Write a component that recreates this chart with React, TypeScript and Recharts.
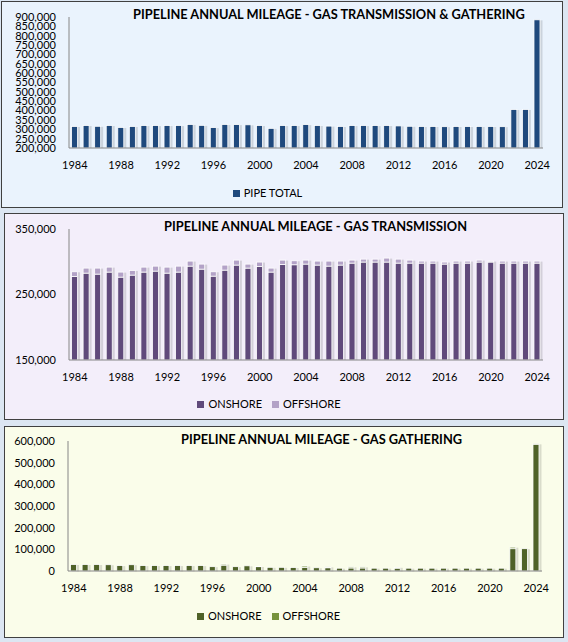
import React from 'react';
import { BarChart, Bar, XAxis, YAxis, Legend } from 'recharts';

const YEARS = [
  1984, 1985, 1986, 1987, 1988, 1989, 1990, 1991, 1992, 1993, 1994, 1995, 1996, 1997,
  1998, 1999, 2000, 2001, 2002, 2003, 2004, 2005, 2006, 2007, 2008, 2009, 2010, 2011,
  2012, 2013, 2014, 2015, 2016, 2017, 2018, 2019, 2020, 2021, 2022, 2023, 2024,
];

// transmission + gathering total (miles)
const PIPE_TOTAL = [
  315000, 320000, 316000, 320000, 310000, 315000, 320000, 320000, 320000, 320000, 326000,
  321000, 309000, 326000, 325000, 324000, 320000, 305000, 320000, 320000, 325000, 320000,
  317000, 315000, 320000, 320000, 320000, 320000, 318000, 316000, 315000, 315000, 314000,
  315000, 315000, 315000, 315000, 314000, 406000, 406000, 885000,
];

// gas transmission
const TRANS_ONSHORE = [
  277500, 282600, 281100, 284200, 276500, 279600, 284200, 285700, 282600, 284200, 293300,
  288700, 278000, 287200, 294900, 290300, 292800, 284200, 295900, 295400, 296400, 294900,
  293300, 294900, 297900, 299500, 299500, 299500, 297900, 297900, 297900, 297900, 296400,
  297900, 297900, 299500, 299500, 297900, 297900, 297900, 297900,
];
const TRANS_OFFSHORE = [
  7200, 7700, 9200, 7600, 7700, 7100, 7600, 7600, 9200, 9100, 7700, 7700, 6700, 7700,
  7600, 6100, 6700, 6100, 6600, 6100, 6100, 6100, 7700, 6100, 4600, 4500, 4500, 6100,
  6100, 4600, 3100, 3100, 3100, 3100, 3100, 3000, 1500, 3100, 3100, 3100, 3100,
];

// gas gathering
const GATH_ONSHORE = [
  30000, 30000, 30000, 29000, 25000, 29000, 25000, 25000, 25000, 25000, 25000, 25000,
  20000, 27000, 20000, 24000, 20000, 17000, 17000, 16000, 17000, 15000, 15000, 13000,
  14000, 14000, 13000, 13000, 13000, 13000, 13000, 13000, 13000, 13000, 13000, 13000,
  13000, 13000, 103000, 103000, 585000,
];
const GATH_OFFSHORE = [
  0, 0, 0, 0, 0, 0, 0, 0, 0, 0, 0, 0, 0, 5000, 0, 0, 1000, 0, 0, 0, 6000, 0, 4000, 0,
  5000, 5000, 0, 0, 4000, 0, 0, 0, 0, 0, 0, 0, 0, 0, 7000, 0, 2000,
];

const TICKS_TOTAL = [
  200000, 250000, 300000, 350000, 400000, 450000, 500000, 550000, 600000, 650000, 700000,
  750000, 800000, 850000, 900000,
];
const TICKS_TRANS = [150000, 250000, 350000];
const TICKS_GATH = [0, 100000, 200000, 300000, 400000, 500000, 600000];
const LEGEND_ORDER = ['PIPE TOTAL', 'ONSHORE', 'OFFSHORE'];

const totalData = YEARS.map((y, i) => ({ year: y, total: PIPE_TOTAL[i] }));
const transData = YEARS.map((y, i) => ({ year: y, on: TRANS_ONSHORE[i], off: TRANS_OFFSHORE[i] }));
const gathData = YEARS.map((y, i) => ({ year: y, on: GATH_ONSHORE[i], off: GATH_OFFSHORE[i] }));

const FONT = 'Lato, "Open Sans", sans-serif';
const fmt = (v: number) => v.toLocaleString('en-US');
const tickStyle = { fontSize: 11, fill: '#000', fontFamily: FONT };
const sortLegend = (item: any) => LEGEND_ORDER.indexOf(item.value);

// bar with a soft grey drop shadow, like the Excel original
const ShadowBar = (props: any) => {
  const { x, y, width, height, fill } = props;
  if (!height || height <= 0) return null;
  return (
    <g>
      <rect x={x + 1.5} y={y + 0.5} width={width + 1} height={height} fill="#000" fillOpacity={0.13} />
      <rect x={x} y={y} width={width} height={height} fill={fill} stroke="#fff" strokeWidth={0.8} />
    </g>
  );
};

const legendText = (value: string) => (
  <span style={{ color: '#000', fontSize: 11, fontFamily: FONT }}>{value}</span>
);

const Panel = ({ left, top, width, height, bg, title, titleLeft, titleTop, children }: any) => (
  <div
    style={{
      position: 'absolute',
      left,
      top,
      width,
      height,
      background: bg,
      border: '1px solid #404040',
      boxSizing: 'border-box',
    }}
  >
    <div
      style={{
        position: 'absolute',
        left: titleLeft,
        top: titleTop,
        fontFamily: FONT,
        fontWeight: 700,
        fontSize: 12.8,
        color: '#000',
        whiteSpace: 'nowrap',
      }}
    >
      {title}
    </div>
    <div style={{ position: 'absolute', left: 0, top: 0 }}>{children}</div>
  </div>
);

export default function App() {
  return (
    <div style={{ position: 'absolute', left: 0, top: 0, width: 568, height: 642, background: '#dce6f2' }}>
      <Panel left={1} top={1} width={562} height={207} bg="#eaf3fd"
        title="PIPELINE ANNUAL MILEAGE - GAS TRANSMISSION & GATHERING" titleLeft={131} titleTop={4}>
        <BarChart width={560} height={205} data={totalData} barCategoryGap="22%"
          margin={{ top: 15, right: 19, left: 0, bottom: 0 }}>
          <XAxis dataKey="year" interval={3} tickLine={false} tickSize={0} tickMargin={13} height={35}
            axisLine={{ stroke: '#868686' }} tick={tickStyle} />
          <YAxis domain={[200000, 900000]} ticks={TICKS_TOTAL} interval={0} tickFormatter={fmt}
            tickLine={false} tickSize={0} tickMargin={13} width={67}
            axisLine={{ stroke: '#868686' }} tick={tickStyle} allowDataOverflow />
          <Legend verticalAlign="bottom" height={24} iconType="square" iconSize={7}
            itemSorter={sortLegend} formatter={legendText} />
          <Bar dataKey="total" name="PIPE TOTAL" fill="#1f497d" shape={ShadowBar} isAnimationActive={false} />
        </BarChart>
      </Panel>

      <Panel left={4} top={213} width={560} height={207} bg="#f3eefa"
        title="PIPELINE ANNUAL MILEAGE - GAS TRANSMISSION" titleLeft={159} titleTop={4}>
        <BarChart width={558} height={205} data={transData} barCategoryGap="22%"
          margin={{ top: 15, right: 20, left: 0, bottom: 0 }}>
          <XAxis dataKey="year" interval={3} tickLine={false} tickSize={0} tickMargin={13} height={34}
            axisLine={{ stroke: '#868686' }} tick={tickStyle} />
          <YAxis domain={[150000, 350000]} ticks={TICKS_TRANS} interval={0} tickFormatter={fmt}
            tickLine={false} tickSize={0} tickMargin={13} width={64}
            axisLine={{ stroke: '#868686' }} tick={tickStyle} allowDataOverflow />
          <Legend verticalAlign="bottom" height={25} iconType="square" iconSize={7}
            itemSorter={sortLegend} formatter={legendText} />
          <Bar dataKey="on" name="ONSHORE" stackId="t" fill="#604a7b" shape={ShadowBar} isAnimationActive={false} />
          <Bar dataKey="off" name="OFFSHORE" stackId="t" fill="#b3a2c7" shape={ShadowBar} isAnimationActive={false} />
        </BarChart>
      </Panel>

      <Panel left={4} top={426} width={560} height={212} bg="#fafdea"
        title="PIPELINE ANNUAL MILEAGE - GAS GATHERING" titleLeft={176} titleTop={4}>
        <BarChart width={558} height={210} data={gathData} barCategoryGap="22%"
          margin={{ top: 14, right: 21, left: 0, bottom: 0 }}>
          <XAxis dataKey="year" interval={3} tickLine={false} tickSize={0} tickMargin={13} height={35}
            axisLine={{ stroke: '#868686' }} tick={tickStyle} />
          <YAxis domain={[0, 600000]} ticks={TICKS_GATH} interval={0} tickFormatter={fmt}
            tickLine={false} tickSize={0} tickMargin={13} width={63}
            axisLine={{ stroke: '#868686' }} tick={tickStyle} />
          <Legend verticalAlign="bottom" height={31} iconType="square" iconSize={7}
            itemSorter={sortLegend} formatter={legendText} />
          <Bar dataKey="on" name="ONSHORE" stackId="g" fill="#4f6228" shape={ShadowBar} isAnimationActive={false} />
          <Bar dataKey="off" name="OFFSHORE" stackId="g" fill="#77933c" shape={ShadowBar} isAnimationActive={false} />
        </BarChart>
      </Panel>
    </div>
  );
}
